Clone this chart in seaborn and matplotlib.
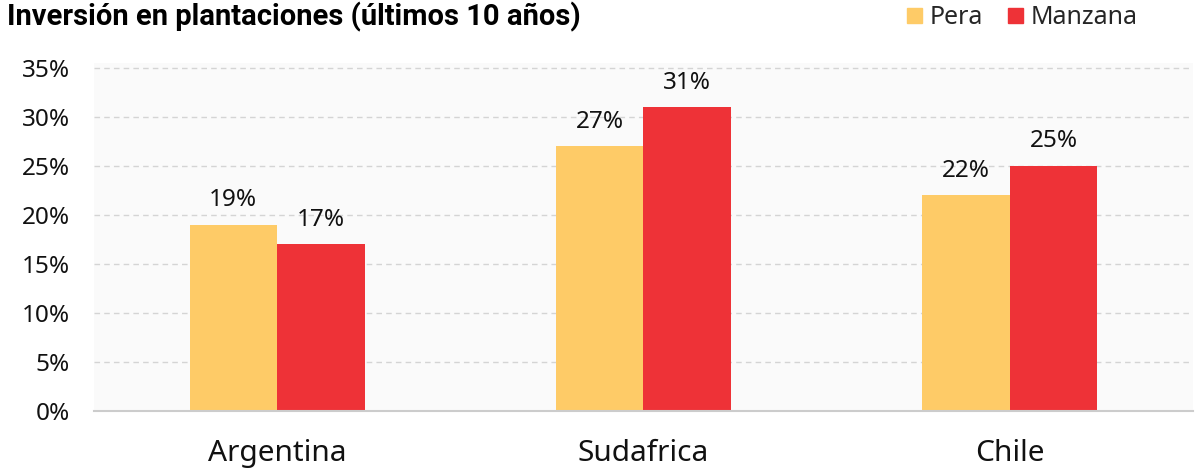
import matplotlib
matplotlib.use("Agg")
import matplotlib.pyplot as plt
import pandas as pd
import seaborn as sns
from matplotlib.patches import Patch

paises = ["Argentina", "Sudafrica", "Chile"]
series = ["Pera", "Manzana"]
pera = [19, 27, 22]
manzana = [17, 31, 25]
colores = ["#FECB67", "#EE3237"]
yticks = [0, 5, 10, 15, 20, 25, 30, 35]

df = pd.DataFrame({
    "pais": paises * 2,
    "fruta": [series[0]] * 3 + [series[1]] * 3,
    "valor": pera + manzana,
})

sns.set_theme(style="white")
plt.rcParams["font.family"] = ["Noto Sans", "DejaVu Sans"]

fig = plt.figure(figsize=(11.97, 4.70), dpi=100)
ax = fig.add_axes([0.0785, 0.1255, 0.918, 0.7405])
ax.set_facecolor("#fafafa")

sns.barplot(data=df, x="pais", y="valor", hue="fruta", palette=colores,
            width=0.478, gap=0, saturation=1, linewidth=0, ax=ax, legend=False)

for cont in ax.containers:
    ax.bar_label(cont, fmt="%d%%", padding=9, fontsize=17.5, color="#111111")

ax.set_xlim(-0.5, 2.5)
ax.set_ylim(0, 35.5)
ax.set_yticks(yticks)
ax.set_yticklabels([f"{v}%" for v in yticks], fontsize=17.5, color="#111111")
ax.tick_params(axis="x", labelsize=21.5, colors="#111111", length=0, pad=20)
ax.tick_params(axis="y", length=0, pad=17.5)
ax.set_xlabel("")
ax.set_ylabel("")
ax.yaxis.grid(True, linestyle=(0, (4, 3)), color="#d4d4d4", linewidth=1)
ax.set_axisbelow(True)
for s in ["top", "right", "left"]:
    ax.spines[s].set_visible(False)
ax.spines["bottom"].set_color("#cccccc")
ax.spines["bottom"].set_linewidth(1.5)

fig.text(0.006, 0.963, "Inversión en plantaciones (últimos 10 años)",
         fontsize=21, fontweight="bold", family=["Roboto", "DejaVu Sans"],
         ha="left", va="center", color="#000000")

handles = [Patch(color=c, label=l) for c, l in zip(colores, series)]
fig.legend(handles=handles, loc="center right", bbox_to_anchor=(0.961, 0.962),
           ncol=2, frameon=False, fontsize=18, handlelength=0.6, handleheight=0.6,
           handletextpad=0.3, columnspacing=1.0, borderpad=0)

fig.savefig("out.png", dpi=100)
